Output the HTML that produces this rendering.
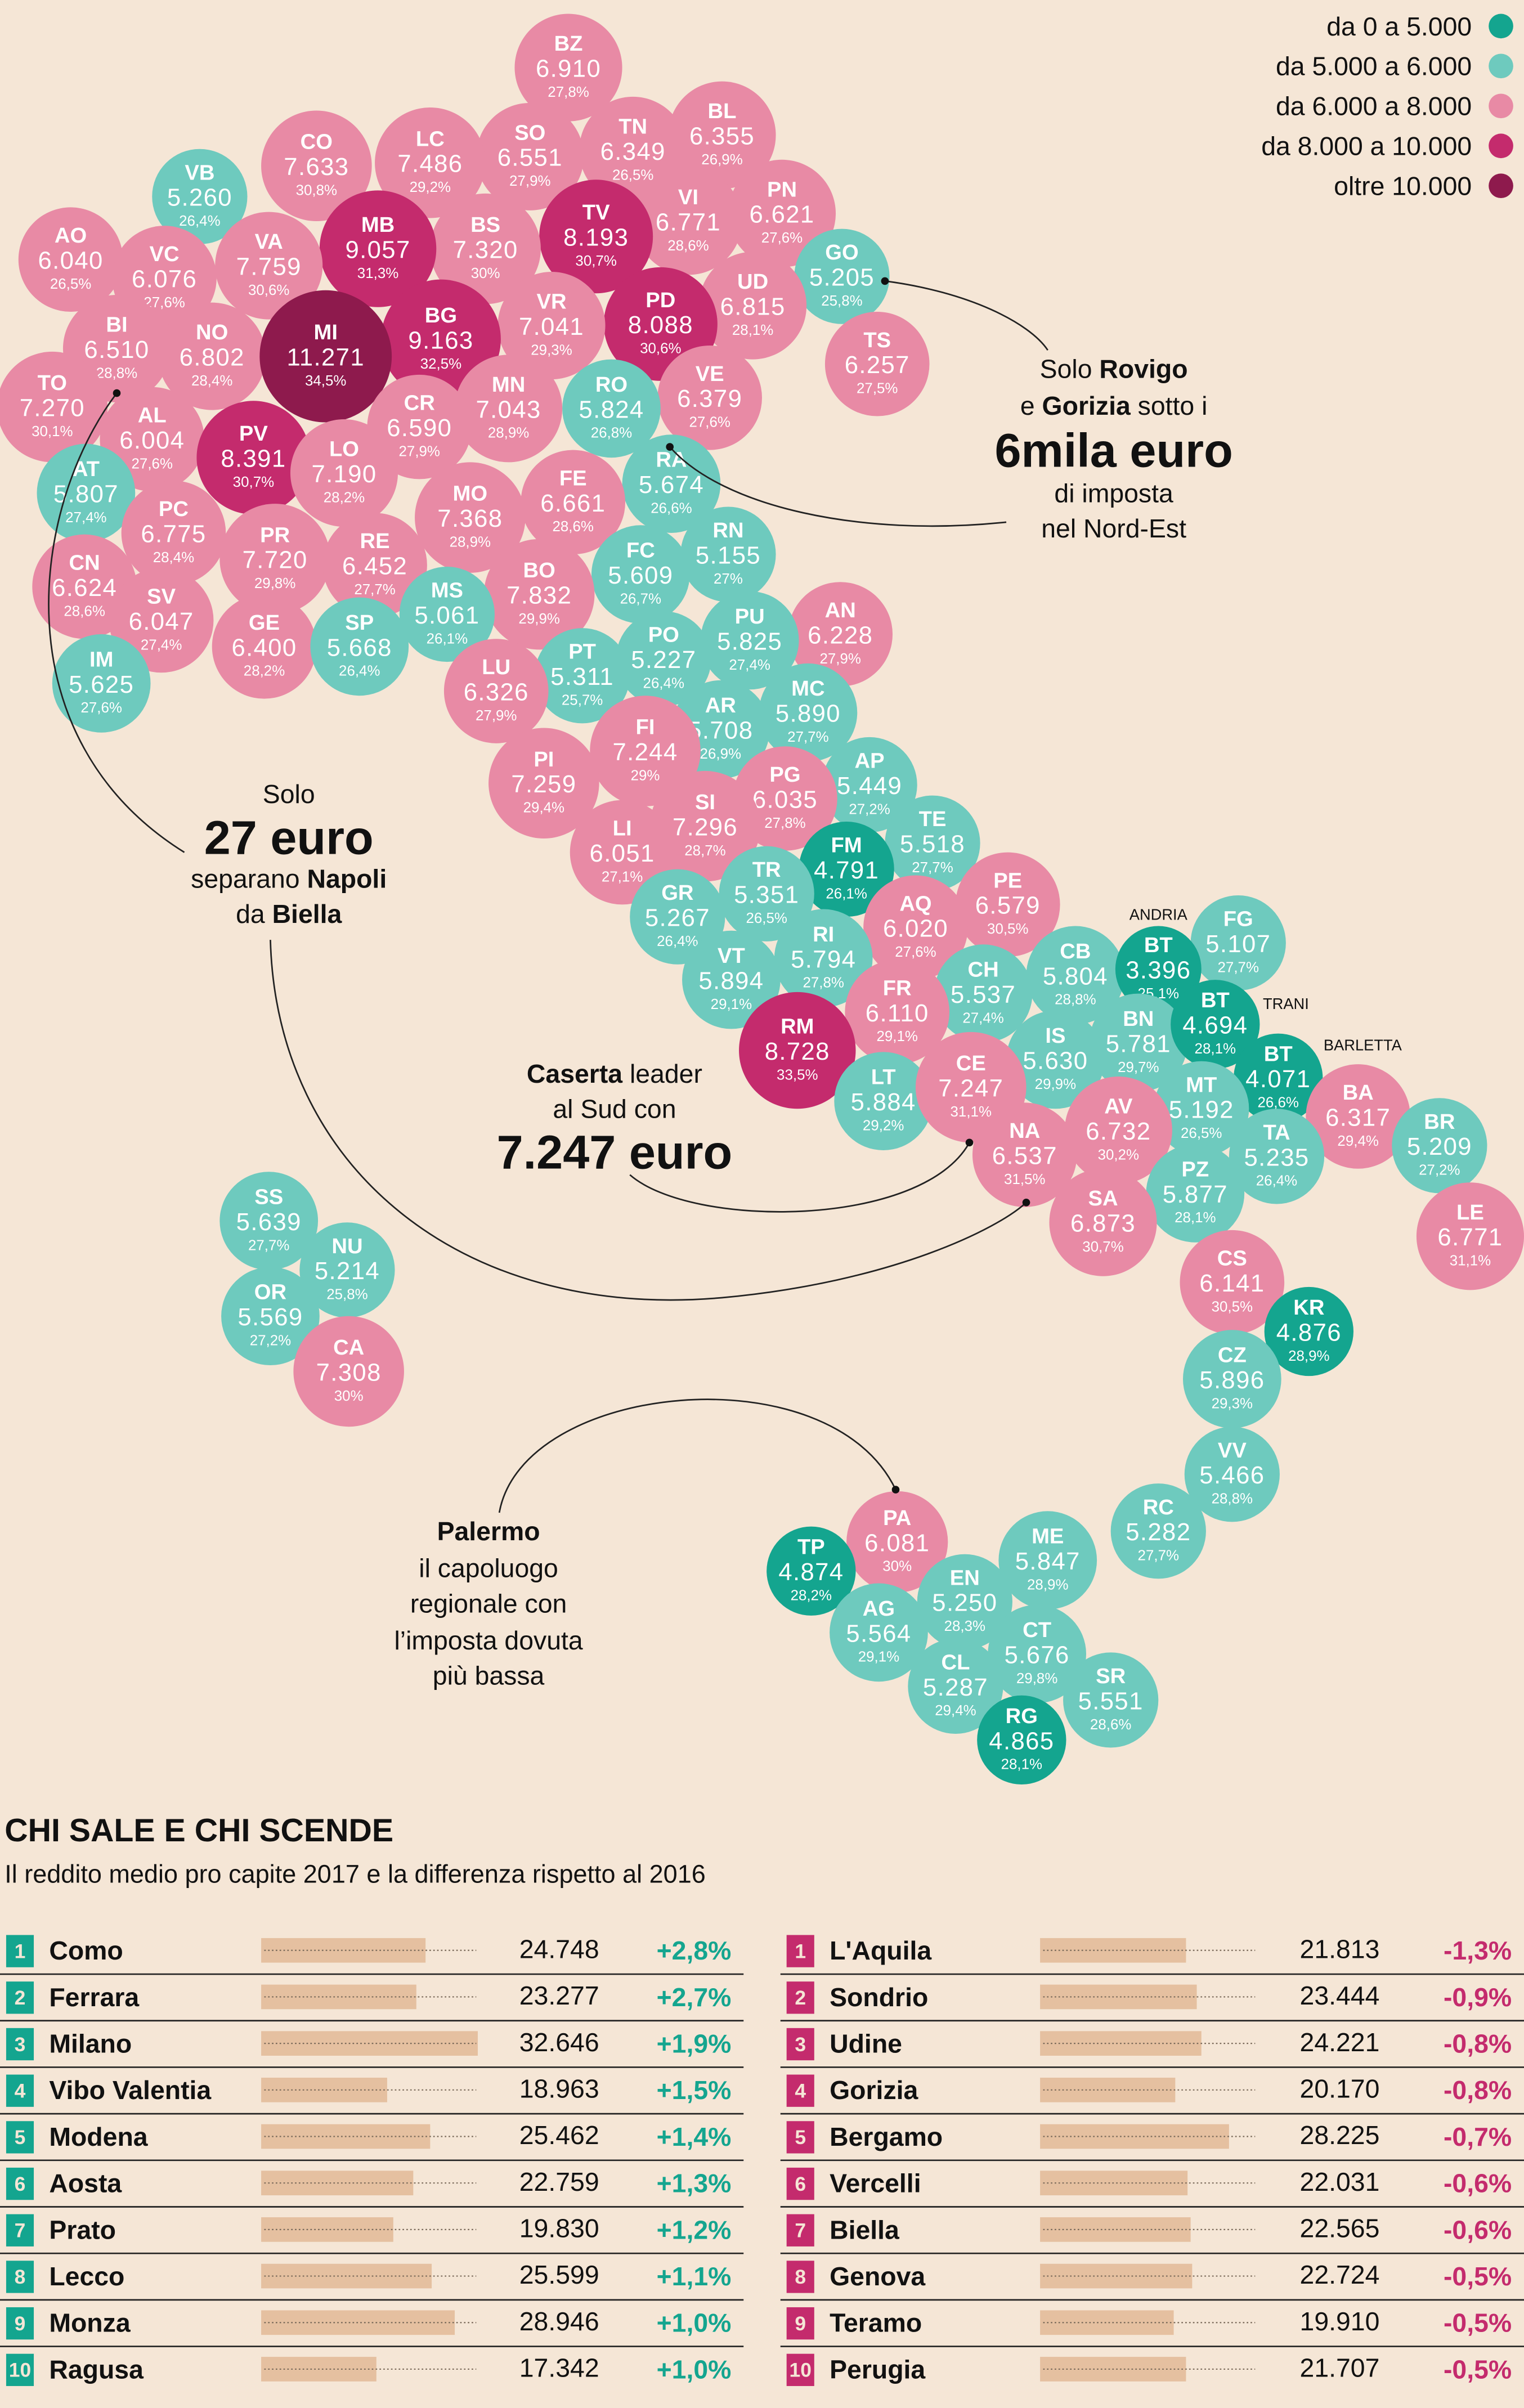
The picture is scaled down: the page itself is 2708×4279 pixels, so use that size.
<!DOCTYPE html>
<html><head><meta charset="utf-8"><style>
html,body{margin:0;padding:0;background:#f5e6d6;}
svg{display:block}
text{font-family:"Liberation Sans",sans-serif;}
.p circle{fill:#e88aa5}.t circle{fill:#6ecabe}.d circle{fill:#14a58f}.m circle{fill:#c42b6d}.x circle{fill:#8e1a4d}
g text{fill:#fff;text-anchor:middle}
.c{font-weight:bold;font-size:14px}.v{font-size:16px;letter-spacing:0.5px}.s{font-size:9.5px}
.ann{font-size:17px;fill:#111;text-anchor:middle}
.big{font-size:31px;font-weight:bold;fill:#111;text-anchor:middle}
.lg{font-size:17px;fill:#111;text-anchor:end}
g text.nm{font-size:17px;font-weight:bold;fill:#111;text-anchor:start}
g text.val{font-size:17px;fill:#111;text-anchor:end}
g text.pg{font-size:17px;font-weight:bold;fill:#14a58f;text-anchor:end}
g text.pr{font-size:17px;font-weight:bold;fill:#c42b6d;text-anchor:end}
g text.bx{font-size:13px;font-weight:bold;fill:#f5e6d6;text-anchor:middle}
.bar{fill:#e5c0a0}
.dot{stroke:#7a6a5a;stroke-width:0.8;stroke-dasharray:1 1.5}
</style></head><body>
<svg width="2708" height="4279" viewBox="0 0 992 1568" preserveAspectRatio="none" xmlns="http://www.w3.org/2000/svg">
<rect width="992" height="1568" fill="#f5e6d6"/>
<text class="lg" x="958" y="23">da 0 a 5.000</text><circle cx="977" cy="17" r="8" fill="#14a58f"/>
<text class="lg" x="958" y="49">da 5.000 a 6.000</text><circle cx="977" cy="43" r="8" fill="#6ecabe"/>
<text class="lg" x="958" y="75">da 6.000 a 8.000</text><circle cx="977" cy="69" r="8" fill="#e88aa5"/>
<text class="lg" x="958" y="101">da 8.000 a 10.000</text><circle cx="977" cy="95" r="8" fill="#c42b6d"/>
<text class="lg" x="958" y="127">oltre 10.000</text><circle cx="977" cy="121" r="8" fill="#8e1a4d"/>

<g id="bubbles">
<g class="p" transform="translate(370,44)"><circle r="35"/><text class="c" y="-11">BZ</text><text class="v" y="6">6.910</text><text class="s" y="19">27,8%</text></g>
<g class="p" transform="translate(470,88)"><circle r="35"/><text class="c" y="-11">BL</text><text class="v" y="6">6.355</text><text class="s" y="19">26,9%</text></g>
<g class="p" transform="translate(412,98)"><circle r="35"/><text class="c" y="-11">TN</text><text class="v" y="6">6.349</text><text class="s" y="19">26,5%</text></g>
<g class="p" transform="translate(345,102)"><circle r="35"/><text class="c" y="-11">SO</text><text class="v" y="6">6.551</text><text class="s" y="19">27,9%</text></g>
<g class="p" transform="translate(280,106)"><circle r="36"/><text class="c" y="-11">LC</text><text class="v" y="6">7.486</text><text class="s" y="19">29,2%</text></g>
<g class="p" transform="translate(206,108)"><circle r="36"/><text class="c" y="-11">CO</text><text class="v" y="6">7.633</text><text class="s" y="19">30,8%</text></g>
<g class="t" transform="translate(130,128)"><circle r="31"/><text class="c" y="-11">VB</text><text class="v" y="6">5.260</text><text class="s" y="19">26,4%</text></g>
<g class="p" transform="translate(509,139)"><circle r="35"/><text class="c" y="-11">PN</text><text class="v" y="6">6.621</text><text class="s" y="19">27,6%</text></g>
<g class="p" transform="translate(448,144)"><circle r="35"/><text class="c" y="-11">VI</text><text class="v" y="6">6.771</text><text class="s" y="19">28,6%</text></g>
<g class="m" transform="translate(388,154)"><circle r="37"/><text class="c" y="-11">TV</text><text class="v" y="6">8.193</text><text class="s" y="19">30,7%</text></g>
<g class="p" transform="translate(316,162)"><circle r="36"/><text class="c" y="-11">BS</text><text class="v" y="6">7.320</text><text class="s" y="19">30%</text></g>
<g class="m" transform="translate(246,162)"><circle r="38"/><text class="c" y="-11">MB</text><text class="v" y="6">9.057</text><text class="s" y="19">31,3%</text></g>
<g class="p" transform="translate(175,173)"><circle r="35"/><text class="c" y="-11">VA</text><text class="v" y="6">7.759</text><text class="s" y="19">30,6%</text></g>
<g class="p" transform="translate(46,169)"><circle r="34"/><text class="c" y="-11">AO</text><text class="v" y="6">6.040</text><text class="s" y="19">26,5%</text></g>
<g class="p" transform="translate(107,181)"><circle r="34"/><text class="c" y="-11">VC</text><text class="v" y="6">6.076</text><text class="s" y="19">27,6%</text></g>
<g class="t" transform="translate(548,180)"><circle r="31"/><text class="c" y="-11">GO</text><text class="v" y="6">5.205</text><text class="s" y="19">25,8%</text></g>
<g class="p" transform="translate(490,199)"><circle r="35"/><text class="c" y="-11">UD</text><text class="v" y="6">6.815</text><text class="s" y="19">28,1%</text></g>
<g class="m" transform="translate(430,211)"><circle r="37"/><text class="c" y="-11">PD</text><text class="v" y="6">8.088</text><text class="s" y="19">30,6%</text></g>
<g class="p" transform="translate(359,212)"><circle r="35"/><text class="c" y="-11">VR</text><text class="v" y="6">7.041</text><text class="s" y="19">29,3%</text></g>
<g class="m" transform="translate(287,221)"><circle r="39"/><text class="c" y="-11">BG</text><text class="v" y="6">9.163</text><text class="s" y="19">32,5%</text></g>
<g class="p" transform="translate(138,232)"><circle r="35"/><text class="c" y="-11">NO</text><text class="v" y="6">6.802</text><text class="s" y="19">28,4%</text></g>
<g class="x" transform="translate(212,232)"><circle r="43"/><text class="c" y="-11">MI</text><text class="v" y="6">11.271</text><text class="s" y="19">34,5%</text></g>
<g class="p" transform="translate(76,227)"><circle r="35"/><text class="c" y="-11">BI</text><text class="v" y="6">6.510</text><text class="s" y="19">28,8%</text></g>
<g class="p" transform="translate(571,237)"><circle r="34"/><text class="c" y="-11">TS</text><text class="v" y="6">6.257</text><text class="s" y="19">27,5%</text></g>
<g class="p" transform="translate(34,265)"><circle r="36"/><text class="c" y="-11">TO</text><text class="v" y="6">7.270</text><text class="s" y="19">30,1%</text></g>
<g class="p" transform="translate(462,259)"><circle r="34"/><text class="c" y="-11">VE</text><text class="v" y="6">6.379</text><text class="s" y="19">27,6%</text></g>
<g class="t" transform="translate(398,266)"><circle r="32"/><text class="c" y="-11">RO</text><text class="v" y="6">5.824</text><text class="s" y="19">26,8%</text></g>
<g class="p" transform="translate(331,266)"><circle r="35"/><text class="c" y="-11">MN</text><text class="v" y="6">7.043</text><text class="s" y="19">28,9%</text></g>
<g class="p" transform="translate(273,278)"><circle r="34"/><text class="c" y="-11">CR</text><text class="v" y="6">6.590</text><text class="s" y="19">27,9%</text></g>
<g class="p" transform="translate(99,286)"><circle r="34"/><text class="c" y="-11">AL</text><text class="v" y="6">6.004</text><text class="s" y="19">27,6%</text></g>
<g class="m" transform="translate(165,298)"><circle r="37"/><text class="c" y="-11">PV</text><text class="v" y="6">8.391</text><text class="s" y="19">30,7%</text></g>
<g class="p" transform="translate(224,308)"><circle r="35"/><text class="c" y="-11">LO</text><text class="v" y="6">7.190</text><text class="s" y="19">28,2%</text></g>
<g class="t" transform="translate(437,315)"><circle r="32"/><text class="c" y="-11">RA</text><text class="v" y="6">5.674</text><text class="s" y="19">26,6%</text></g>
<g class="t" transform="translate(56,321)"><circle r="32"/><text class="c" y="-11">AT</text><text class="v" y="6">5.807</text><text class="s" y="19">27,4%</text></g>
<g class="p" transform="translate(373,327)"><circle r="34"/><text class="c" y="-11">FE</text><text class="v" y="6">6.661</text><text class="s" y="19">28,6%</text></g>
<g class="p" transform="translate(306,337)"><circle r="36"/><text class="c" y="-11">MO</text><text class="v" y="6">7.368</text><text class="s" y="19">28,9%</text></g>
<g class="p" transform="translate(113,347)"><circle r="34"/><text class="c" y="-11">PC</text><text class="v" y="6">6.775</text><text class="s" y="19">28,4%</text></g>
<g class="t" transform="translate(474,361)"><circle r="31"/><text class="c" y="-11">RN</text><text class="v" y="6">5.155</text><text class="s" y="19">27%</text></g>
<g class="t" transform="translate(417,374)"><circle r="32"/><text class="c" y="-11">FC</text><text class="v" y="6">5.609</text><text class="s" y="19">26,7%</text></g>
<g class="p" transform="translate(55,382)"><circle r="34"/><text class="c" y="-11">CN</text><text class="v" y="6">6.624</text><text class="s" y="19">28,6%</text></g>
<g class="p" transform="translate(179,364)"><circle r="36"/><text class="c" y="-11">PR</text><text class="v" y="6">7.720</text><text class="s" y="19">29,8%</text></g>
<g class="p" transform="translate(244,368)"><circle r="34"/><text class="c" y="-11">RE</text><text class="v" y="6">6.452</text><text class="s" y="19">27,7%</text></g>
<g class="p" transform="translate(105,404)"><circle r="34"/><text class="c" y="-11">SV</text><text class="v" y="6">6.047</text><text class="s" y="19">27,4%</text></g>
<g class="p" transform="translate(351,387)"><circle r="36"/><text class="c" y="-11">BO</text><text class="v" y="6">7.832</text><text class="s" y="19">29,9%</text></g>
<g class="t" transform="translate(291,400)"><circle r="31"/><text class="c" y="-11">MS</text><text class="v" y="6">5.061</text><text class="s" y="19">26,1%</text></g>
<g class="p" transform="translate(547,413)"><circle r="34"/><text class="c" y="-11">AN</text><text class="v" y="6">6.228</text><text class="s" y="19">27,9%</text></g>
<g class="t" transform="translate(488,417)"><circle r="32"/><text class="c" y="-11">PU</text><text class="v" y="6">5.825</text><text class="s" y="19">27,4%</text></g>
<g class="p" transform="translate(172,421)"><circle r="34"/><text class="c" y="-11">GE</text><text class="v" y="6">6.400</text><text class="s" y="19">28,2%</text></g>
<g class="t" transform="translate(234,421)"><circle r="32"/><text class="c" y="-11">SP</text><text class="v" y="6">5.668</text><text class="s" y="19">26,4%</text></g>
<g class="t" transform="translate(432,429)"><circle r="31"/><text class="c" y="-11">PO</text><text class="v" y="6">5.227</text><text class="s" y="19">26,4%</text></g>
<g class="t" transform="translate(379,440)"><circle r="31"/><text class="c" y="-11">PT</text><text class="v" y="6">5.311</text><text class="s" y="19">25,7%</text></g>
<g class="p" transform="translate(323,450)"><circle r="34"/><text class="c" y="-11">LU</text><text class="v" y="6">6.326</text><text class="s" y="19">27,9%</text></g>
<g class="t" transform="translate(66,445)"><circle r="32"/><text class="c" y="-11">IM</text><text class="v" y="6">5.625</text><text class="s" y="19">27,6%</text></g>
<g class="t" transform="translate(526,464)"><circle r="32"/><text class="c" y="-11">MC</text><text class="v" y="6">5.890</text><text class="s" y="19">27,7%</text></g>
<g class="t" transform="translate(469,475)"><circle r="32"/><text class="c" y="-11">AR</text><text class="v" y="6">5.708</text><text class="s" y="19">26,9%</text></g>
<g class="p" transform="translate(420,489)"><circle r="36"/><text class="c" y="-11">FI</text><text class="v" y="6">7.244</text><text class="s" y="19">29%</text></g>
<g class="t" transform="translate(566,511)"><circle r="31"/><text class="c" y="-11">AP</text><text class="v" y="6">5.449</text><text class="s" y="19">27,2%</text></g>
<g class="p" transform="translate(354,510)"><circle r="36"/><text class="c" y="-11">PI</text><text class="v" y="6">7.259</text><text class="s" y="19">29,4%</text></g>
<g class="p" transform="translate(511,520)"><circle r="34"/><text class="c" y="-11">PG</text><text class="v" y="6">6.035</text><text class="s" y="19">27,8%</text></g>
<g class="p" transform="translate(459,538)"><circle r="36"/><text class="c" y="-11">SI</text><text class="v" y="6">7.296</text><text class="s" y="19">28,7%</text></g>
<g class="t" transform="translate(607,549)"><circle r="31"/><text class="c" y="-11">TE</text><text class="v" y="6">5.518</text><text class="s" y="19">27,7%</text></g>
<g class="p" transform="translate(405,555)"><circle r="34"/><text class="c" y="-11">LI</text><text class="v" y="6">6.051</text><text class="s" y="19">27,1%</text></g>
<g class="d" transform="translate(551,566)"><circle r="31"/><text class="c" y="-11">FM</text><text class="v" y="6">4.791</text><text class="s" y="19">26,1%</text></g>
<g class="t" transform="translate(499,582)"><circle r="31"/><text class="c" y="-11">TR</text><text class="v" y="6">5.351</text><text class="s" y="19">26,5%</text></g>
<g class="t" transform="translate(441,597)"><circle r="31"/><text class="c" y="-11">GR</text><text class="v" y="6">5.267</text><text class="s" y="19">26,4%</text></g>
<g class="p" transform="translate(656,589)"><circle r="34"/><text class="c" y="-11">PE</text><text class="v" y="6">6.579</text><text class="s" y="19">30,5%</text></g>
<g class="p" transform="translate(596,604)"><circle r="34"/><text class="c" y="-11">AQ</text><text class="v" y="6">6.020</text><text class="s" y="19">27,6%</text></g>
<g class="t" transform="translate(806,614)"><circle r="31"/><text class="c" y="-11">FG</text><text class="v" y="6">5.107</text><text class="s" y="19">27,7%</text></g>
<g class="t" transform="translate(700,635)"><circle r="32"/><text class="c" y="-11">CB</text><text class="v" y="6">5.804</text><text class="s" y="19">28,8%</text></g>
<g class="d" transform="translate(754,631)"><circle r="28"/><text class="c" y="-11">BT</text><text class="v" y="6">3.396</text><text class="s" y="19">25,1%</text></g>
<g class="t" transform="translate(536,624)"><circle r="32"/><text class="c" y="-11">RI</text><text class="v" y="6">5.794</text><text class="s" y="19">27,8%</text></g>
<g class="t" transform="translate(476,638)"><circle r="32"/><text class="c" y="-11">VT</text><text class="v" y="6">5.894</text><text class="s" y="19">29,1%</text></g>
<g class="t" transform="translate(640,647)"><circle r="32"/><text class="c" y="-11">CH</text><text class="v" y="6">5.537</text><text class="s" y="19">27,4%</text></g>
<g class="p" transform="translate(584,659)"><circle r="34"/><text class="c" y="-11">FR</text><text class="v" y="6">6.110</text><text class="s" y="19">29,1%</text></g>
<g class="t" transform="translate(741,679)"><circle r="32"/><text class="c" y="-11">BN</text><text class="v" y="6">5.781</text><text class="s" y="19">29,7%</text></g>
<g class="d" transform="translate(791,667)"><circle r="29"/><text class="c" y="-11">BT</text><text class="v" y="6">4.694</text><text class="s" y="19">28,1%</text></g>
<g class="t" transform="translate(687,690)"><circle r="32"/><text class="c" y="-11">IS</text><text class="v" y="6">5.630</text><text class="s" y="19">29,9%</text></g>
<g class="m" transform="translate(519,684)"><circle r="38"/><text class="c" y="-11">RM</text><text class="v" y="6">8.728</text><text class="s" y="19">33,5%</text></g>
<g class="d" transform="translate(832,702)"><circle r="29"/><text class="c" y="-11">BT</text><text class="v" y="6">4.071</text><text class="s" y="19">26,6%</text></g>
<g class="p" transform="translate(884,727)"><circle r="34"/><text class="c" y="-11">BA</text><text class="v" y="6">6.317</text><text class="s" y="19">29,4%</text></g>
<g class="t" transform="translate(575,717)"><circle r="32"/><text class="c" y="-11">LT</text><text class="v" y="6">5.884</text><text class="s" y="19">29,2%</text></g>
<g class="p" transform="translate(632,708)"><circle r="36"/><text class="c" y="-11">CE</text><text class="v" y="6">7.247</text><text class="s" y="19">31,1%</text></g>
<g class="t" transform="translate(782,722)"><circle r="31"/><text class="c" y="-11">MT</text><text class="v" y="6">5.192</text><text class="s" y="19">26,5%</text></g>
<g class="t" transform="translate(937,746)"><circle r="31"/><text class="c" y="-11">BR</text><text class="v" y="6">5.209</text><text class="s" y="19">27,2%</text></g>
<g class="p" transform="translate(667,752)"><circle r="34"/><text class="c" y="-11">NA</text><text class="v" y="6">6.537</text><text class="s" y="19">31,5%</text></g>
<g class="p" transform="translate(728,736)"><circle r="35"/><text class="c" y="-11">AV</text><text class="v" y="6">6.732</text><text class="s" y="19">30,2%</text></g>
<g class="t" transform="translate(831,753)"><circle r="31"/><text class="c" y="-11">TA</text><text class="v" y="6">5.235</text><text class="s" y="19">26,4%</text></g>
<g class="t" transform="translate(778,777)"><circle r="32"/><text class="c" y="-11">PZ</text><text class="v" y="6">5.877</text><text class="s" y="19">28,1%</text></g>
<g class="p" transform="translate(718,796)"><circle r="35"/><text class="c" y="-11">SA</text><text class="v" y="6">6.873</text><text class="s" y="19">30,7%</text></g>
<g class="p" transform="translate(957,805)"><circle r="35"/><text class="c" y="-11">LE</text><text class="v" y="6">6.771</text><text class="s" y="19">31,1%</text></g>
<g class="t" transform="translate(175,795)"><circle r="32"/><text class="c" y="-11">SS</text><text class="v" y="6">5.639</text><text class="s" y="19">27,7%</text></g>
<g class="t" transform="translate(226,827)"><circle r="31"/><text class="c" y="-11">NU</text><text class="v" y="6">5.214</text><text class="s" y="19">25,8%</text></g>
<g class="t" transform="translate(176,857)"><circle r="32"/><text class="c" y="-11">OR</text><text class="v" y="6">5.569</text><text class="s" y="19">27,2%</text></g>
<g class="p" transform="translate(802,835)"><circle r="34"/><text class="c" y="-11">CS</text><text class="v" y="6">6.141</text><text class="s" y="19">30,5%</text></g>
<g class="d" transform="translate(852,867)"><circle r="29"/><text class="c" y="-11">KR</text><text class="v" y="6">4.876</text><text class="s" y="19">28,9%</text></g>
<g class="p" transform="translate(227,893)"><circle r="36"/><text class="c" y="-11">CA</text><text class="v" y="6">7.308</text><text class="s" y="19">30%</text></g>
<g class="t" transform="translate(802,898)"><circle r="32"/><text class="c" y="-11">CZ</text><text class="v" y="6">5.896</text><text class="s" y="19">29,3%</text></g>
<g class="t" transform="translate(802,960)"><circle r="31"/><text class="c" y="-11">VV</text><text class="v" y="6">5.466</text><text class="s" y="19">28,8%</text></g>
<g class="t" transform="translate(754,997)"><circle r="31"/><text class="c" y="-11">RC</text><text class="v" y="6">5.282</text><text class="s" y="19">27,7%</text></g>
<g class="p" transform="translate(584,1004)"><circle r="33"/><text class="c" y="-11">PA</text><text class="v" y="6">6.081</text><text class="s" y="19">30%</text></g>
<g class="d" transform="translate(528,1023)"><circle r="29"/><text class="c" y="-11">TP</text><text class="v" y="6">4.874</text><text class="s" y="19">28,2%</text></g>
<g class="t" transform="translate(682,1016)"><circle r="32"/><text class="c" y="-11">ME</text><text class="v" y="6">5.847</text><text class="s" y="19">28,9%</text></g>
<g class="t" transform="translate(628,1043)"><circle r="31"/><text class="c" y="-11">EN</text><text class="v" y="6">5.250</text><text class="s" y="19">28,3%</text></g>
<g class="t" transform="translate(572,1063)"><circle r="32"/><text class="c" y="-11">AG</text><text class="v" y="6">5.564</text><text class="s" y="19">29,1%</text></g>
<g class="t" transform="translate(675,1077)"><circle r="32"/><text class="c" y="-11">CT</text><text class="v" y="6">5.676</text><text class="s" y="19">29,8%</text></g>
<g class="t" transform="translate(622,1098)"><circle r="31"/><text class="c" y="-11">CL</text><text class="v" y="6">5.287</text><text class="s" y="19">29,4%</text></g>
<g class="t" transform="translate(723,1107)"><circle r="31"/><text class="c" y="-11">SR</text><text class="v" y="6">5.551</text><text class="s" y="19">28,6%</text></g>
<g class="d" transform="translate(665,1133)"><circle r="29"/><text class="c" y="-11">RG</text><text class="v" y="6">4.865</text><text class="s" y="19">28,1%</text></g>
</g>

<text x="754" y="599" font-size="10" text-anchor="middle" fill="#111">ANDRIA</text>
<text x="837" y="657" font-size="10" text-anchor="middle" fill="#111">TRANI</text>
<text x="887" y="684" font-size="10" text-anchor="middle" fill="#111">BARLETTA</text>

<g fill="none" stroke="#222" stroke-width="1">
<path d="M576,183 C630,190 670,210 682,228"/>
<path d="M436,291 C470,330 560,350 655,340"/>
<path d="M76,256 C20,330 0,480 120,555"/>
<path d="M176,612 C180,760 300,860 470,845 C580,835 650,800 668,783"/>
<path d="M410,765 C450,800 600,800 631,744"/>
<path d="M325,985 C340,900 540,880 583,970"/>
</g>
<g fill="#111"><circle cx="576" cy="183" r="2.5"/><circle cx="436" cy="291" r="2.5"/><circle cx="76" cy="256" r="2.5"/><circle cx="668" cy="783" r="2.5"/><circle cx="631" cy="744" r="2.5"/><circle cx="583" cy="970" r="2.5"/></g>

<text class="ann" x="725" y="246">Solo <tspan font-weight="bold">Rovigo</tspan></text>
<text class="ann" x="725" y="270">e <tspan font-weight="bold">Gorizia</tspan> sotto i</text>
<text class="big" x="725" y="304">6mila euro</text>
<text class="ann" x="725" y="327">di imposta</text>
<text class="ann" x="725" y="350">nel Nord-Est</text>

<text class="ann" x="188" y="523">Solo</text>
<text class="big" x="188" y="556">27 euro</text>
<text class="ann" x="188" y="578">separano <tspan font-weight="bold">Napoli</tspan></text>
<text class="ann" x="188" y="601">da <tspan font-weight="bold">Biella</tspan></text>

<text class="ann" x="400" y="705"><tspan font-weight="bold">Caserta</tspan> leader</text>
<text class="ann" x="400" y="728">al Sud con</text>
<text class="big" x="400" y="761">7.247 euro</text>

<text class="ann" x="318" y="1003" font-weight="bold">Palermo</text>
<text class="ann" x="318" y="1027">il capoluogo</text>
<text class="ann" x="318" y="1050">regionale con</text>
<text class="ann" x="318" y="1074">l’imposta dovuta</text>
<text class="ann" x="318" y="1097">più bassa</text>

<text x="3" y="1199" font-size="21" font-weight="bold" fill="#111">CHI SALE E CHI SCENDE</text>
<text x="3" y="1226" font-size="16.5" fill="#111">Il reddito medio pro capite 2017 e la differenza rispetto al 2016</text>

<g id="left">
<g transform="translate(0,1270)"><rect x="4" y="-10" width="18" height="21" fill="#14a58f"/><text class="bx" x="13" y="5">1</text><text class="nm" x="32" y="6">Como</text><rect class="bar" x="170" y="-8" width="107" height="16"/><line class="dot" x1="172" y1="0" x2="310" y2="0"/><text class="val" x="390" y="5">24.748</text><text class="pg" x="476" y="6">+2,8%</text><line x1="0" y1="15.5" x2="484" y2="15.5" stroke="#222"/></g>
<g transform="translate(0,1300.3)"><rect x="4" y="-10" width="18" height="21" fill="#14a58f"/><text class="bx" x="13" y="5">2</text><text class="nm" x="32" y="6">Ferrara</text><rect class="bar" x="170" y="-8" width="101" height="16"/><line class="dot" x1="172" y1="0" x2="310" y2="0"/><text class="val" x="390" y="5">23.277</text><text class="pg" x="476" y="6">+2,7%</text><line x1="0" y1="15.5" x2="484" y2="15.5" stroke="#222"/></g>
<g transform="translate(0,1330.6)"><rect x="4" y="-10" width="18" height="21" fill="#14a58f"/><text class="bx" x="13" y="5">3</text><text class="nm" x="32" y="6">Milano</text><rect class="bar" x="170" y="-8" width="141" height="16"/><line class="dot" x1="172" y1="0" x2="310" y2="0"/><text class="val" x="390" y="5">32.646</text><text class="pg" x="476" y="6">+1,9%</text><line x1="0" y1="15.5" x2="484" y2="15.5" stroke="#222"/></g>
<g transform="translate(0,1360.9)"><rect x="4" y="-10" width="18" height="21" fill="#14a58f"/><text class="bx" x="13" y="5">4</text><text class="nm" x="32" y="6">Vibo Valentia</text><rect class="bar" x="170" y="-8" width="82" height="16"/><line class="dot" x1="172" y1="0" x2="310" y2="0"/><text class="val" x="390" y="5">18.963</text><text class="pg" x="476" y="6">+1,5%</text><line x1="0" y1="15.5" x2="484" y2="15.5" stroke="#222"/></g>
<g transform="translate(0,1391.2)"><rect x="4" y="-10" width="18" height="21" fill="#14a58f"/><text class="bx" x="13" y="5">5</text><text class="nm" x="32" y="6">Modena</text><rect class="bar" x="170" y="-8" width="110" height="16"/><line class="dot" x1="172" y1="0" x2="310" y2="0"/><text class="val" x="390" y="5">25.462</text><text class="pg" x="476" y="6">+1,4%</text><line x1="0" y1="15.5" x2="484" y2="15.5" stroke="#222"/></g>
<g transform="translate(0,1421.5)"><rect x="4" y="-10" width="18" height="21" fill="#14a58f"/><text class="bx" x="13" y="5">6</text><text class="nm" x="32" y="6">Aosta</text><rect class="bar" x="170" y="-8" width="99" height="16"/><line class="dot" x1="172" y1="0" x2="310" y2="0"/><text class="val" x="390" y="5">22.759</text><text class="pg" x="476" y="6">+1,3%</text><line x1="0" y1="15.5" x2="484" y2="15.5" stroke="#222"/></g>
<g transform="translate(0,1451.8)"><rect x="4" y="-10" width="18" height="21" fill="#14a58f"/><text class="bx" x="13" y="5">7</text><text class="nm" x="32" y="6">Prato</text><rect class="bar" x="170" y="-8" width="86" height="16"/><line class="dot" x1="172" y1="0" x2="310" y2="0"/><text class="val" x="390" y="5">19.830</text><text class="pg" x="476" y="6">+1,2%</text><line x1="0" y1="15.5" x2="484" y2="15.5" stroke="#222"/></g>
<g transform="translate(0,1482.1)"><rect x="4" y="-10" width="18" height="21" fill="#14a58f"/><text class="bx" x="13" y="5">8</text><text class="nm" x="32" y="6">Lecco</text><rect class="bar" x="170" y="-8" width="111" height="16"/><line class="dot" x1="172" y1="0" x2="310" y2="0"/><text class="val" x="390" y="5">25.599</text><text class="pg" x="476" y="6">+1,1%</text><line x1="0" y1="15.5" x2="484" y2="15.5" stroke="#222"/></g>
<g transform="translate(0,1512.4)"><rect x="4" y="-10" width="18" height="21" fill="#14a58f"/><text class="bx" x="13" y="5">9</text><text class="nm" x="32" y="6">Monza</text><rect class="bar" x="170" y="-8" width="126" height="16"/><line class="dot" x1="172" y1="0" x2="310" y2="0"/><text class="val" x="390" y="5">28.946</text><text class="pg" x="476" y="6">+1,0%</text><line x1="0" y1="15.5" x2="484" y2="15.5" stroke="#222"/></g>
<g transform="translate(0,1542.7)"><rect x="4" y="-10" width="18" height="21" fill="#14a58f"/><text class="bx" x="13" y="5">10</text><text class="nm" x="32" y="6">Ragusa</text><rect class="bar" x="170" y="-8" width="75" height="16"/><line class="dot" x1="172" y1="0" x2="310" y2="0"/><text class="val" x="390" y="5">17.342</text><text class="pg" x="476" y="6">+1,0%</text></g>
</g>

<g id="right">
<g transform="translate(508,1270)"><rect x="4" y="-10" width="18" height="21" fill="#c42b6d"/><text class="bx" x="13" y="5">1</text><text class="nm" x="32" y="6">L'Aquila</text><rect class="bar" x="169" y="-8" width="95" height="16"/><line class="dot" x1="171" y1="0" x2="309" y2="0"/><text class="val" x="390" y="5">21.813</text><text class="pr" x="476" y="6">-1,3%</text><line x1="0" y1="15.5" x2="484" y2="15.5" stroke="#222"/></g>
<g transform="translate(508,1300.3)"><rect x="4" y="-10" width="18" height="21" fill="#c42b6d"/><text class="bx" x="13" y="5">2</text><text class="nm" x="32" y="6">Sondrio</text><rect class="bar" x="169" y="-8" width="102" height="16"/><line class="dot" x1="171" y1="0" x2="309" y2="0"/><text class="val" x="390" y="5">23.444</text><text class="pr" x="476" y="6">-0,9%</text><line x1="0" y1="15.5" x2="484" y2="15.5" stroke="#222"/></g>
<g transform="translate(508,1330.6)"><rect x="4" y="-10" width="18" height="21" fill="#c42b6d"/><text class="bx" x="13" y="5">3</text><text class="nm" x="32" y="6">Udine</text><rect class="bar" x="169" y="-8" width="105" height="16"/><line class="dot" x1="171" y1="0" x2="309" y2="0"/><text class="val" x="390" y="5">24.221</text><text class="pr" x="476" y="6">-0,8%</text><line x1="0" y1="15.5" x2="484" y2="15.5" stroke="#222"/></g>
<g transform="translate(508,1360.9)"><rect x="4" y="-10" width="18" height="21" fill="#c42b6d"/><text class="bx" x="13" y="5">4</text><text class="nm" x="32" y="6">Gorizia</text><rect class="bar" x="169" y="-8" width="88" height="16"/><line class="dot" x1="171" y1="0" x2="309" y2="0"/><text class="val" x="390" y="5">20.170</text><text class="pr" x="476" y="6">-0,8%</text><line x1="0" y1="15.5" x2="484" y2="15.5" stroke="#222"/></g>
<g transform="translate(508,1391.2)"><rect x="4" y="-10" width="18" height="21" fill="#c42b6d"/><text class="bx" x="13" y="5">5</text><text class="nm" x="32" y="6">Bergamo</text><rect class="bar" x="169" y="-8" width="123" height="16"/><line class="dot" x1="171" y1="0" x2="309" y2="0"/><text class="val" x="390" y="5">28.225</text><text class="pr" x="476" y="6">-0,7%</text><line x1="0" y1="15.5" x2="484" y2="15.5" stroke="#222"/></g>
<g transform="translate(508,1421.5)"><rect x="4" y="-10" width="18" height="21" fill="#c42b6d"/><text class="bx" x="13" y="5">6</text><text class="nm" x="32" y="6">Vercelli</text><rect class="bar" x="169" y="-8" width="96" height="16"/><line class="dot" x1="171" y1="0" x2="309" y2="0"/><text class="val" x="390" y="5">22.031</text><text class="pr" x="476" y="6">-0,6%</text><line x1="0" y1="15.5" x2="484" y2="15.5" stroke="#222"/></g>
<g transform="translate(508,1451.8)"><rect x="4" y="-10" width="18" height="21" fill="#c42b6d"/><text class="bx" x="13" y="5">7</text><text class="nm" x="32" y="6">Biella</text><rect class="bar" x="169" y="-8" width="98" height="16"/><line class="dot" x1="171" y1="0" x2="309" y2="0"/><text class="val" x="390" y="5">22.565</text><text class="pr" x="476" y="6">-0,6%</text><line x1="0" y1="15.5" x2="484" y2="15.5" stroke="#222"/></g>
<g transform="translate(508,1482.1)"><rect x="4" y="-10" width="18" height="21" fill="#c42b6d"/><text class="bx" x="13" y="5">8</text><text class="nm" x="32" y="6">Genova</text><rect class="bar" x="169" y="-8" width="99" height="16"/><line class="dot" x1="171" y1="0" x2="309" y2="0"/><text class="val" x="390" y="5">22.724</text><text class="pr" x="476" y="6">-0,5%</text><line x1="0" y1="15.5" x2="484" y2="15.5" stroke="#222"/></g>
<g transform="translate(508,1512.4)"><rect x="4" y="-10" width="18" height="21" fill="#c42b6d"/><text class="bx" x="13" y="5">9</text><text class="nm" x="32" y="6">Teramo</text><rect class="bar" x="169" y="-8" width="87" height="16"/><line class="dot" x1="171" y1="0" x2="309" y2="0"/><text class="val" x="390" y="5">19.910</text><text class="pr" x="476" y="6">-0,5%</text><line x1="0" y1="15.5" x2="484" y2="15.5" stroke="#222"/></g>
<g transform="translate(508,1542.7)"><rect x="4" y="-10" width="18" height="21" fill="#c42b6d"/><text class="bx" x="13" y="5">10</text><text class="nm" x="32" y="6">Perugia</text><rect class="bar" x="169" y="-8" width="95" height="16"/><line class="dot" x1="171" y1="0" x2="309" y2="0"/><text class="val" x="390" y="5">21.707</text><text class="pr" x="476" y="6">-0,5%</text></g>
</g>
</svg>
</body></html>
